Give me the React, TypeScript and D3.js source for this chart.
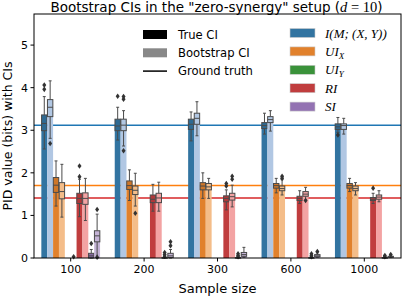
import * as d3 from "d3"

const sampleSizes = ["100", "200", "300", "600", "1000"]
const measures = ["I", "UIX", "UIY", "RI", "SI"]
const kinds = ["true", "boot"]

// box stats per sample size: [whiskerLow, q1, median, q3, whiskerHigh]
const iTrue = [[2.56, 2.99, 3.16, 3.36, 3.79], [2.77, 2.99, 3.10, 3.26, 3.54], [2.75, 3.02, 3.14, 3.26, 3.43], [2.91, 3.04, 3.11, 3.18, 3.40], [2.95, 3.02, 3.08, 3.15, 3.30]]
const iBoot = [[2.81, 3.32, 3.54, 3.72, 4.16], [2.63, 2.99, 3.12, 3.26, 3.46], [2.87, 3.14, 3.28, 3.40, 3.67], [2.98, 3.18, 3.25, 3.32, 3.46], [2.91, 3.02, 3.11, 3.15, 3.28]]
const uixTrue = [[1.22, 1.54, 1.71, 1.89, 2.28], [1.35, 1.61, 1.70, 1.81, 2.07], [1.40, 1.60, 1.69, 1.77, 2.00], [1.53, 1.64, 1.70, 1.75, 1.87], [1.56, 1.64, 1.70, 1.75, 1.87]]
const uixBoot = [[0.96, 1.39, 1.56, 1.77, 2.20], [1.22, 1.49, 1.59, 1.69, 1.99], [1.40, 1.60, 1.67, 1.75, 1.87], [1.48, 1.58, 1.63, 1.69, 1.84], [1.48, 1.58, 1.63, 1.69, 1.77]]
const uiyTrue = [[0, 0, 0, 0, 0], [0, 0, 0, 0, 0], [0, 0, 0, 0, 0], [0, 0, 0, 0, 0], [0, 0, 0, 0, 0]]
const uiyBoot = [[0, 0, 0, 0, 0], [0, 0, 0, 0, 0], [0, 0, 0, 0, 0], [0, 0, 0, 0, 0], [0, 0, 0, 0, 0]]
const riTrue = [[0.97, 1.28, 1.40, 1.52, 1.85], [1.10, 1.30, 1.38, 1.48, 1.73], [1.13, 1.32, 1.40, 1.46, 1.60], [1.28, 1.35, 1.40, 1.45, 1.58], [1.28, 1.35, 1.38, 1.42, 1.52]]
const riBoot = [[0.88, 1.26, 1.40, 1.53, 1.87], [1.10, 1.30, 1.41, 1.52, 1.78], [1.20, 1.36, 1.44, 1.52, 1.71], [1.36, 1.45, 1.50, 1.56, 1.66], [1.32, 1.38, 1.43, 1.48, 1.58]]
const siTrue = [[0, 0, 0.05, 0.11, 0.2], [0, 0, 0, 0.01, 0.02], [0, 0, 0, 0.01, 0.02], [0, 0, 0, 0.01, 0.02], [0, 0, 0, 0.01, 0.02]]
const siBoot = [[0, 0.38, 0.52, 0.64, 1.03], [0, 0.01, 0.05, 0.11, 0.2], [0.02, 0.04, 0.08, 0.13, 0.25], [0.02, 0.03, 0.05, 0.08, 0.12], [0.01, 0.02, 0.03, 0.04, 0.06]]

// outliers per sample size
const iTrueFliers = [[4.06, 3.96], [3.8], [], [], [2.89]]
const iBootFliers = [[2.69], [3.79, 3.73, 2.52], [], [], []]
const uixTrueFliers = [[], [], [], [], []]
const uixBootFliers = [[], [1.05], [], [1.92, 1.87], []]
const uiyTrueFliers = [[], [], [], [], []]
const uiyBootFliers = [[0.03], [], [], [], []]
const riTrueFliers = [[2.16, 1.91], [], [1.75, 1.69], [], [1.64]]
const riBootFliers = [[], [], [1.92, 1.85], [1.35], []]
const siTrueFliers = [[0.34], [0.13, 0.08, 0.04], [0.1, 0.06, 0.03], [0.1, 0.06, 0.03], [0.06, 0.03]]
const siBootFliers = [[1.14, 0.02], [0.38, 0.29], [], [0.15], [0.08]]

const groundTruth = [3.115, 1.7, 0, 1.41, 0]

const darkColors = ["#3274a1", "#e1812c", "#3a923a", "#c03d3e", "#9372b2"]
const lightColors = ["#b1c7e3", "#f4bd89", "#a6d79a", "#f3a3a3", "#c4b3d6"]
const lineColors = ["#1f77b4", "#ff7f0e", "#2ca02c", "#d62728", "#9467bd"]

const stats = [[iTrue, iBoot], [uixTrue, uixBoot], [uiyTrue, uiyBoot], [riTrue, riBoot], [siTrue, siBoot]]
const fliers = [[iTrueFliers, iBootFliers], [uixTrueFliers, uixBootFliers], [uiyTrueFliers, uiyBootFliers], [riTrueFliers, riBootFliers], [siTrueFliers, siBootFliers]]

const W = 407
const H = 297
const left = 34
const right = 401
const top = 14
const bottom = 258

export default function App() {
  const x = d3.scaleBand().domain(sampleSizes).range([left, right]).paddingInner(0.2).paddingOuter(0.1)
  const subKeys = measures.flatMap((m) => kinds.map((k) => m + "_" + k))
  const xs = d3.scaleBand().domain(subKeys).range([0, x.bandwidth()])
  const y = d3.scaleLinear().domain([0, 5.73]).range([bottom, top])
  const bw = xs.bandwidth()
  const font = "DejaVu Sans"
  const mathFont = "Liberation Serif"

  const marks: any[] = []
  sampleSizes.forEach((s, ci) => {
    measures.forEach((m, mi) => {
      kinds.forEach((k, ki) => {
        const st = stats[mi][ki][ci]
        const fl = fliers[mi][ki][ci]
        const x0 = (x(s) ?? 0) + (xs(m + "_" + k) ?? 0)
        const cx = x0 + bw / 2
        const fill = ki === 0 ? darkColors[mi] : lightColors[mi]
        const boxFill = ki === 0 ? d3.color(fill)!.darker(0.25).toString() : fill
        const [lo, q1, med, q3, hi] = st
        const bw2 = bw * 0.92
        const cap = bw * 0.5
        marks.push(
          <g key={`${s}-${m}-${k}`}>
            <rect x={x0} y={y(med)} width={bw} height={bottom - y(med)} fill={fill} />
            {hi > 0 && (
              <g stroke="#4a4a4a" strokeWidth={1} fill="none">
                <line x1={cx} x2={cx} y1={y(q3)} y2={y(hi)} />
                <line x1={cx} x2={cx} y1={y(q1)} y2={y(lo)} />
                <line x1={cx - cap / 2} x2={cx + cap / 2} y1={y(hi)} y2={y(hi)} />
                <line x1={cx - cap / 2} x2={cx + cap / 2} y1={y(lo)} y2={y(lo)} />
                <rect x={cx - bw2 / 2} y={y(q3)} width={bw2} height={Math.max(y(q1) - y(q3), 0.5)} fill={boxFill} />
                <line x1={cx - bw2 / 2} x2={cx + bw2 / 2} y1={y(med)} y2={y(med)} />
              </g>
            )}
            {fl.map((v, j) => (
              <path
                key={j}
                d={`M${cx},${y(v) - 2.8}L${cx + 2},${y(v)}L${cx},${y(v) + 2.8}L${cx - 2},${y(v)}Z`}
                fill="#333333"
              />
            ))}
          </g>
        )
      })
    })
  })

  const yTicks = [0, 1, 2, 3, 4, 5]

  const legendLeft = [
    { label: "True CI", type: "rect", color: "#000000" },
    { label: "Bootstrap CI", type: "rect", color: "#888888" },
    { label: "Ground truth", type: "line", color: "#000000" },
  ]

  const mathLabels = [
    <tspan key="i">I(M; (X, Y))</tspan>,
    <tspan key="x">UI<tspan dy={3} fontSize={9}>X</tspan></tspan>,
    <tspan key="y">UI<tspan dy={3} fontSize={9}>Y</tspan></tspan>,
    <tspan key="r">RI</tspan>,
    <tspan key="s">SI</tspan>,
  ]

  return (
    <svg width={W} height={H} style={{ position: "absolute", left: 0, top: 0 }} fontFamily={font}>
      <rect width={W} height={H} fill="#ffffff" />
      {/* ground truth lines */}
      {groundTruth.map((g, i) =>
        g > 0 ? (
          <line key={i} x1={left} x2={right} y1={y(g)} y2={y(g)} stroke={lineColors[i]} strokeWidth={1.5} />
        ) : null
      )}
      {marks}
      {/* axes frame */}
      <rect x={left} y={top} width={right - left} height={bottom - top} fill="none" stroke="#000" strokeWidth={1} />
      {yTicks.map((t) => (
        <g key={t}>
          <line x1={left - 3.5} x2={left} y1={y(t)} y2={y(t)} stroke="#000" />
          <text x={left - 6} y={y(t)} dy="0.35em" textAnchor="end" fontSize={11}>
            {t}
          </text>
        </g>
      ))}
      {sampleSizes.map((s) => {
        const cx = (x(s) ?? 0) + x.bandwidth() / 2
        return (
          <g key={s}>
            <line x1={cx} x2={cx} y1={bottom} y2={bottom + 3.5} stroke="#000" />
            <text x={cx} y={bottom + 15} textAnchor="middle" fontSize={11}>
              {s}
            </text>
          </g>
        )
      })}
      <text x={(left + right) / 2} y={293} textAnchor="middle" fontSize={13}>
        Sample size
      </text>
      <text
        transform={`translate(12,${(top + bottom) / 2}) rotate(-90)`}
        textAnchor="middle"
        fontSize={12.5}
      >
        PID value (bits) with CIs
      </text>
      <text x={(left + right) / 2 - 1} y={11.5} textAnchor="middle" fontSize={13.5}>
        Bootstrap CIs in the "zero-synergy" setup (
        <tspan fontFamily={mathFont} fontStyle="italic" fontSize={14.5}>d</tspan>
        <tspan fontFamily={mathFont} fontSize={14.5}> = 10</tspan>)
      </text>
      {/* legend */}
      {legendLeft.map((l, i) => (
        <g key={l.label} transform={`translate(143,${34.5 + i * 18.3})`}>
          {l.type === "rect" ? (
            <rect x={0} y={-4.5} width={24} height={9} fill={l.color} />
          ) : (
            <line x1={0} x2={24} y1={0} y2={0} stroke={l.color} strokeWidth={1.5} />
          )}
          <text x={35} y={0} dy="0.35em" fontSize={11.6}>
            {l.label}
          </text>
        </g>
      ))}
      {measures.map((m, i) => (
        <g key={m} transform={`translate(290,${33 + i * 18.4})`}>
          <rect x={0} y={-4.5} width={25} height={9} fill={darkColors[i]} stroke="#cccccc" strokeWidth={0.6} />
          <text x={35} y={0} dy="0.35em" fontSize={13} fontFamily={mathFont} fontStyle="italic">
            {mathLabels[i]}
          </text>
        </g>
      ))}
    </svg>
  )
}
